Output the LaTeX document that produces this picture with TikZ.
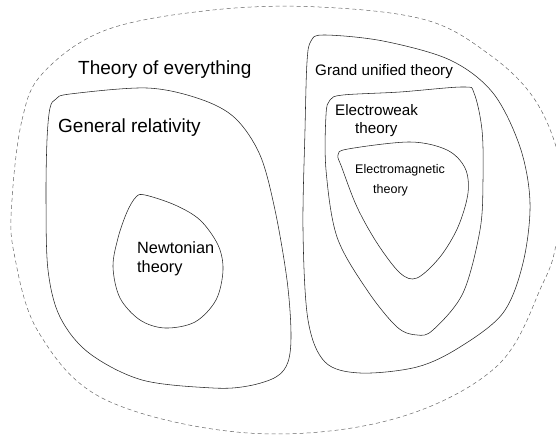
\documentclass[tikz,border=0pt]{standalone}
\usepackage{fontspec}
\setmainfont{Liberation Sans}
\begin{document}
\begin{tikzpicture}[x=1pt,y=-1pt,
  region/.style={draw=black!85,line width=0.55pt},
  outerregion/.style={draw=black!60,line width=0.5pt,dash pattern=on 4pt off 3pt},
  lbl/.style={inner sep=0pt,align=left,anchor=west,text=black}]
\useasboundingbox (0,0) rectangle (556,435);
\clip (0,0) rectangle (556,435);
% outer dashed region
\draw[outerregion] plot[smooth cycle,tension=0.6] coordinates {
 (12,200) (22,120) (43,73) (106,30) (213,10) (319,7) (426,20) (490,55) (533,97) (557,150) (562,200) (556,245) (543,283)
 (496,367) (390,420) (248,433) (106,400) (39,333) (14,253)};
% General relativity
\draw[region] plot[smooth cycle,tension=0.55] coordinates {
 (56,99) (70,94) (147,88) (200,99) (235,118) (260,155) (275,210) (287,280) (291,333) (288,362) (276,377)
 (248,386) (213,388) (142,380) (89,353) (60,317) (48,270) (46,200) (47,140) (50,108)};
% Newtonian
\draw[region] plot[smooth cycle,tension=0.55] coordinates {
 (136,197) (145,195) (175,205) (200,220) (218,245) (223,270) (216,300) (195,322) (165,328) (140,320)
 (120,298) (113,267) (118,238) (127,212)};
% Grand unified
\draw[region] plot[smooth cycle,tension=0.55] coordinates {
 (311,41) (324,35) (383,41) (450,60) (493,93) (520,147) (530,203) (523,263) (503,313) (460,347)
 (417,367) (360,373) (325,362) (308,320) (303,230) (305,130) (307,62)};
% Electroweak
\draw[region] plot[smooth cycle,tension=0.55] coordinates {
 (330,100) (343,95) (400,92) (463,87) (474,93) (482,130) (483,180) (480,230) (463,293) (433,330)
 (417,335) (397,327) (367,290) (337,237) (326,170) (326,115)};
% Electromagnetic
\draw[region] plot[smooth cycle,tension=0.55] coordinates {
 (338,155) (348,149) (410,142) (447,150) (465,168) (468,193) (458,227) (440,257) (417,278) (400,273)
 (377,243) (357,207) (342,168)};
% labels
\node[lbl,font=\fontsize{19}{22}\selectfont] (toe) at (78,70) {Theory of everything};
\node[lbl,font=\fontsize{19}{22}\selectfont] (gr) at (58,128) {General relativity};
\node[lbl,font=\fontsize{16.3}{20}\selectfont] (nt1) at (137,248) {Newtonian};
\node[lbl,font=\fontsize{16.3}{20}\selectfont] (nt2) at (137,268) {theory};
\node[lbl,font=\fontsize{15.2}{18}\selectfont] (gut) at (315,72) {Grand unified theory};
\node[lbl,font=\fontsize{15.2}{18}\selectfont] (ew1) at (335,110) {Electroweak};
\node[lbl,font=\fontsize{15.2}{18}\selectfont] (ew2) at (355,130) {theory};
\node[lbl,font=\fontsize{12.5}{15}\selectfont] (em1) at (355,170) {Electromagnetic};
\node[lbl,font=\fontsize{12.5}{15}\selectfont] (em2) at (373,190) {theory};
\end{tikzpicture}
\end{document}
